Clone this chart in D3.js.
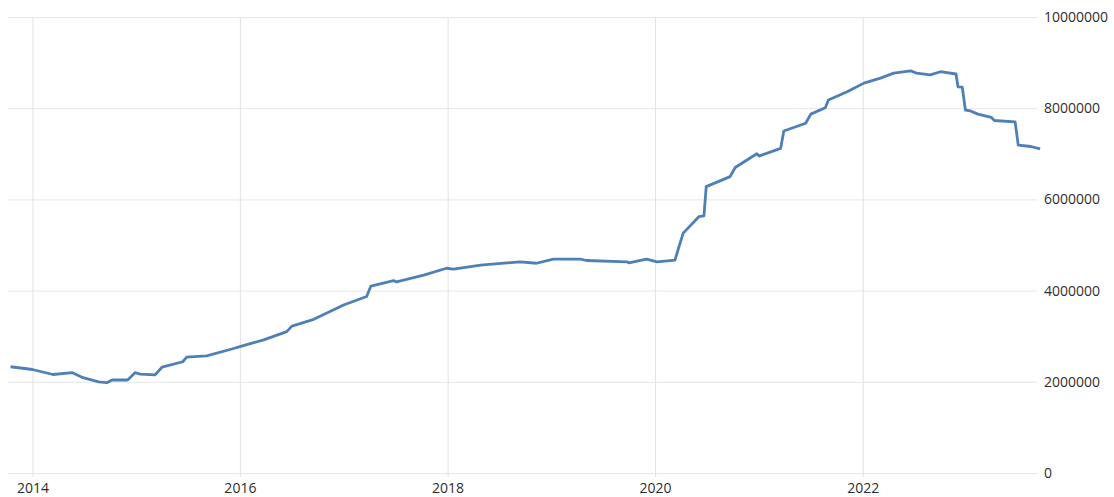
<!DOCTYPE html>
<html>
<head>
<meta charset="utf-8">
<script src="https://cdn.jsdelivr.net/npm/d3@7/dist/d3.min.js"></script>
<style>
    body { margin: 0; background: #fff; }
    svg { display: block; }
    .tick text { font-family: "Open Sans", "Noto Sans", sans-serif; font-size: 14px; fill: #2e2e2e; }
</style>
</head>
<body>
<svg width="1114" height="497"></svg>
<script>
'use strict';

// balance sheet readings
const dates = [
    "2013-10-16", "2014-01-01", "2014-03-14", "2014-05-22", "2014-06-28", "2014-08-22",
    "2014-09-20", "2014-10-08", "2014-12-02", "2014-12-28", "2015-01-15", "2015-03-08",
    "2015-04-02", "2015-06-14", "2015-06-28", "2015-09-06", "2015-12-10", "2016-01-01",
    "2016-03-25", "2016-06-14", "2016-07-02", "2016-09-17", "2016-12-20", "2017-01-02",
    "2017-03-22", "2017-04-06", "2017-06-25", "2017-07-05", "2017-10-09", "2017-12-28",
    "2018-01-22", "2018-04-27", "2018-09-13", "2018-11-10", "2019-01-08", "2019-04-13",
    "2019-05-05", "2019-09-24", "2019-10-01", "2019-12-02", "2020-01-08", "2020-03-11",
    "2020-03-25", "2020-04-09", "2020-06-03", "2020-06-21", "2020-06-29", "2020-09-21",
    "2020-10-09", "2020-12-24", "2021-01-01", "2021-03-18", "2021-03-29", "2021-06-14",
    "2021-07-02", "2021-08-22", "2021-09-02", "2021-11-07", "2022-01-05", "2022-03-04",
    "2022-04-20", "2022-06-18", "2022-07-09", "2022-08-26", "2022-10-01", "2022-11-25",
    "2022-12-02", "2022-12-17", "2022-12-28", "2023-01-15", "2023-02-10", "2023-03-29",
    "2023-04-09", "2023-06-21", "2023-07-02", "2023-08-15", "2023-09-17"
];
const values = [
    2330000, 2270000, 2160000, 2200000, 2090000, 2000000,
    1980000, 2040000, 2040000, 2200000, 2170000, 2150000,
    2320000, 2440000, 2540000, 2570000, 2730000, 2770000,
    2920000, 3100000, 3220000, 3370000, 3650000, 3690000,
    3870000, 4100000, 4220000, 4190000, 4340000, 4490000,
    4470000, 4560000, 4630000, 4600000, 4690000, 4690000,
    4660000, 4630000, 4610000, 4690000, 4630000, 4670000,
    4960000, 5260000, 5620000, 5640000, 6280000, 6500000,
    6700000, 7000000, 6950000, 7120000, 7500000, 7670000,
    7870000, 8010000, 8180000, 8360000, 8550000, 8660000,
    8770000, 8820000, 8770000, 8730000, 8800000, 8750000,
    8470000, 8460000, 7960000, 7940000, 7870000, 7800000,
    7730000, 7700000, 7190000, 7160000, 7110000
];
const yTicks = [0, 2000000, 4000000, 6000000, 8000000, 10000000];
const xTickYears = [2014, 2016, 2018, 2020, 2022];

const parseDate = d3.timeParse("%Y-%m-%d");
const data = dates.map(function (d, i) {
    return {date: parseDate(d), value: values[i]};
});

const svg = d3.select("svg"),
    plotLeft = 8,
    plotRight = 1037,
    plotTop = 17,
    plotBottom = 473;

const x = d3.scaleTime()
    .domain([new Date(2013, 9, 7), new Date(2023, 8, 6)])
    .range([plotLeft, plotRight]);

const y = d3.scaleLinear()
    .domain([0, 10000000])
    .range([plotBottom, plotTop]);

// horizontal grid + right labels
const yAxis = svg.append("g")
    .attr("transform", "translate(" + plotRight + ",0)")
    .call(d3.axisRight(y)
        .tickValues(yTicks)
        .tickSize(-(plotRight - plotLeft))
        .tickPadding(7)
        .tickFormat(d3.format("d")));
yAxis.select(".domain").remove();
yAxis.selectAll(".tick line").attr("stroke", "#e6e6e6");
yAxis.selectAll(".tick text").attr("x", 7).attr("text-anchor", "start");

// vertical grid + year labels
const xAxis = svg.append("g")
    .attr("transform", "translate(0," + (plotBottom + 4) + ")")
    .call(d3.axisBottom(x)
        .tickValues(xTickYears.map(function (yr) { return new Date(yr, 0, 1); }))
        .tickSize(-(plotBottom + 4 - plotTop))
        .tickPadding(6)
        .tickFormat(d3.timeFormat("%Y")));
xAxis.select(".domain").remove();
xAxis.selectAll(".tick line").attr("stroke", "#e2e2e2");

const line = d3.line()
    .x(function (d) { return x(d.date); })
    .y(function (d) { return y(d.value); });

svg.append("path")
    .datum(data)
    .attr("fill", "none")
    .attr("stroke", "#4d80b6")
    .attr("stroke-width", 2.8)
    .attr("stroke-linejoin", "round")
    .attr("d", line);
</script>
</body>
</html>
